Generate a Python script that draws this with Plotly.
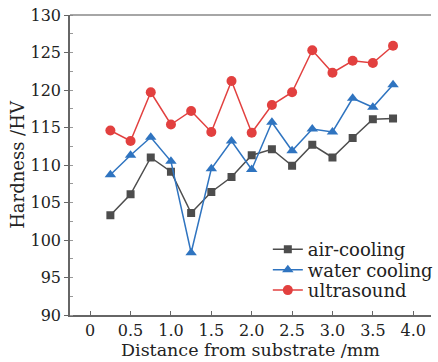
import plotly.graph_objects as go

x = [0.25, 0.5, 0.75, 1.0, 1.25, 1.5, 1.75, 2.0, 2.25, 2.5, 2.75, 3.0, 3.25, 3.5, 3.75]
air_cooling = [103.3, 106.1, 111.0, 109.1, 103.6, 106.4, 108.4, 111.3, 112.1, 109.9, 112.7, 111.0, 113.6, 116.1, 116.2]
water_cooling = [108.7, 111.3, 113.7, 110.5, 98.3, 109.5, 113.2, 109.4, 115.7, 111.9, 114.8, 114.4, 118.9, 117.7, 120.7]
ultrasound = [114.6, 113.2, 119.7, 115.4, 117.2, 114.4, 121.2, 114.3, 118.0, 119.7, 125.3, 122.3, 123.9, 123.6, 125.9]

x_ticks = [0, 0.5, 1.0, 1.5, 2.0, 2.5, 3.0, 3.5, 4.0]
x_tick_labels = ["0", "0.5", "1.0", "1.5", "2.0", "2.5", "3.0", "3.5", "4.0"]
y_ticks = [90, 95, 100, 105, 110, 115, 120, 125, 130]

font = "DejaVu Serif"
txt = "#222"
axc = "#666"

fig = go.Figure()
fig.add_trace(go.Scatter(x=x, y=air_cooling, name="air-cooling", mode="lines+markers",
                         line=dict(color="#4d4d4d", width=1.5), legend="legend",
                         marker=dict(symbol="square", size=8, color="#4d4d4d")))
fig.add_trace(go.Scatter(x=x, y=water_cooling, name="water cooling", mode="lines+markers",
                         line=dict(color="#2f74c0", width=1.5), legend="legend2",
                         marker=dict(symbol="triangle-up", size=10, color="#2f74c0")))
fig.add_trace(go.Scatter(x=x, y=ultrasound, name="ultrasound", mode="lines+markers",
                         line=dict(color="#e2403f", width=1.5), legend="legend3",
                         marker=dict(symbol="circle", size=10, color="#e2403f")))

def leg(yc):
    return dict(x=0.548, y=yc, xanchor="left", yanchor="middle",
                font=dict(family=font, size=18, color=txt),
                bgcolor="rgba(0,0,0,0)", itemwidth=30)

fig.update_layout(
    width=438, height=362,
    margin=dict(l=70, r=0, t=15, b=47),
    paper_bgcolor="white", plot_bgcolor="white",
    font=dict(family=font, size=16, color=txt),
    showlegend=True,
    legend=leg(0.218), legend2=leg(0.15), legend3=leg(0.082),
    xaxis=dict(range=[-0.25, 4.22], tickvals=x_ticks, ticktext=x_tick_labels,
               showgrid=False, zeroline=False, showline=True, linecolor=axc, linewidth=1.5,
               ticks="inside", ticklen=4, tickcolor=axc, ticklabelstandoff=0,
               tickfont=dict(size=16)),
    yaxis=dict(range=[90, 130], tickvals=y_ticks,
               showgrid=False, zeroline=False, showline=True, linecolor=axc, linewidth=1.5,
               ticks="outside", ticklen=4, tickcolor=axc,
               minor=dict(ticks="inside", ticklen=3, tickcolor="#999", dtick=2.5),
               tickfont=dict(size=16),
               title=dict(text="Hardness /HV", font=dict(size=18), standoff=1)),
    annotations=[dict(text="Distance from substrate /mm", xref="paper", yref="paper",
                      x=0.5, y=-0.117, xanchor="center", yanchor="middle", showarrow=False,
                      font=dict(family=font, size=17.5, color=txt))],
)
fig.add_shape(type="line", xref="paper", yref="paper", x0=0, x1=1, y0=1, y1=1,
              line=dict(color="#888", width=1.5))

fig.write_html("out.html", config={"displayModeBar": False},
               post_script="document.body.style.margin='0';")
